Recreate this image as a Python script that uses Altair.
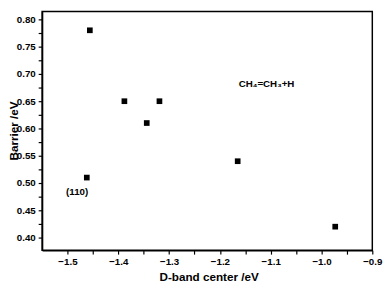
import altair as alt
import pandas as pd

d_band = [-1.456, -1.388, -1.319, -1.344, -1.462, -1.165, -0.973]
barrier = [0.780, 0.650, 0.650, 0.610, 0.510, 0.540, 0.420]

x_ticks = [-1.50, -1.45, -1.40, -1.35, -1.30, -1.25, -1.20, -1.15, -1.10, -1.05, -1.00, -0.95, -0.90]
y_ticks = [0.40, 0.425, 0.45, 0.475, 0.50, 0.525, 0.55, 0.575, 0.60, 0.625, 0.65, 0.675, 0.70, 0.725, 0.75, 0.775, 0.80]

ann_text = ["(110)", "CH\u2084=CH\u2083+H"]
ann_x = [-1.481, -1.163]
ann_y = [0.484, 0.682]

df = pd.DataFrame({"x": d_band, "y": barrier})
ann = pd.DataFrame({"x": ann_x, "y": ann_y, "t": ann_text})

FONT = "Liberation Sans"
xmaj = "abs(datum.value*10 - round(datum.value*10)) < 0.001"
ymaj = "abs(datum.value*20 - round(datum.value*20)) < 0.001"

xs = alt.Scale(domain=[-1.55, -0.9], nice=False, zero=False)
ys = alt.Scale(domain=[0.3768, 0.8143], nice=False, zero=False)

xaxis = alt.Axis(
    values=x_ticks, grid=False, title="D-band center /eV",
    labelExpr=f"{xmaj} ? format(datum.value, '.1f') : ''",
    tickSize=4,
    labelOverlap=False, labelFlush=False, labelBound=False,
    labelPadding=3, titleX=171, titleY=31, titleAnchor="middle", titleBaseline="alphabetic",
)
yaxis = alt.Axis(
    values=y_ticks, grid=False, title="Barrier /eV",
    labelExpr=f"{ymaj} ? format(datum.value, '.2f') : ''",
    tickSize=4,
    labelOverlap=False, labelFlush=False, labelBound=False,
    labelPadding=3, titleX=-29, titleY=122, titleAngle=270, titleBaseline="middle",
    titleAnchor="middle",
)

points = alt.Chart(df).mark_square(size=34, color="black", opacity=1).encode(
    x=alt.X("x:Q", scale=xs, axis=xaxis),
    y=alt.Y("y:Q", scale=ys, axis=yaxis),
)

lab1 = alt.Chart(ann.iloc[[0]]).mark_text(
    font=FONT, fontWeight="bold", fontSize=10, color="black", baseline="middle", align="center"
).encode(x=alt.X("x:Q", scale=xs, axis=xaxis), y=alt.Y("y:Q", scale=ys, axis=yaxis), text="t:N")
lab2 = alt.Chart(ann.iloc[[1]]).mark_text(
    font=FONT, fontWeight="bold", fontSize=10, color="black", baseline="middle", align="left"
).encode(x=alt.X("x:Q", scale=xs, axis=xaxis), y=alt.Y("y:Q", scale=ys, axis=yaxis), text="t:N")

chart = alt.layer(points, lab1, lab2).properties(
    width=339, height=245,
    autosize=alt.AutoSizeParams(type="none"),
    padding={"left": 35, "top": 0, "right": 12, "bottom": 32},
    background="white",
).configure_view(stroke="black", strokeWidth=1.5).configure_axis(
    labelOverlap=False,
    labelFont=FONT, labelFontWeight="bold", labelFontSize=10, labelColor="black",
    titleFont=FONT, titleFontWeight="bold", titleFontSize=12, titleColor="black",
    domainColor="black", domainWidth=1.5, tickColor="black", tickWidth=1.2,
)

chart.save("out.html", embed_options={"renderer": "svg", "actions": False})
